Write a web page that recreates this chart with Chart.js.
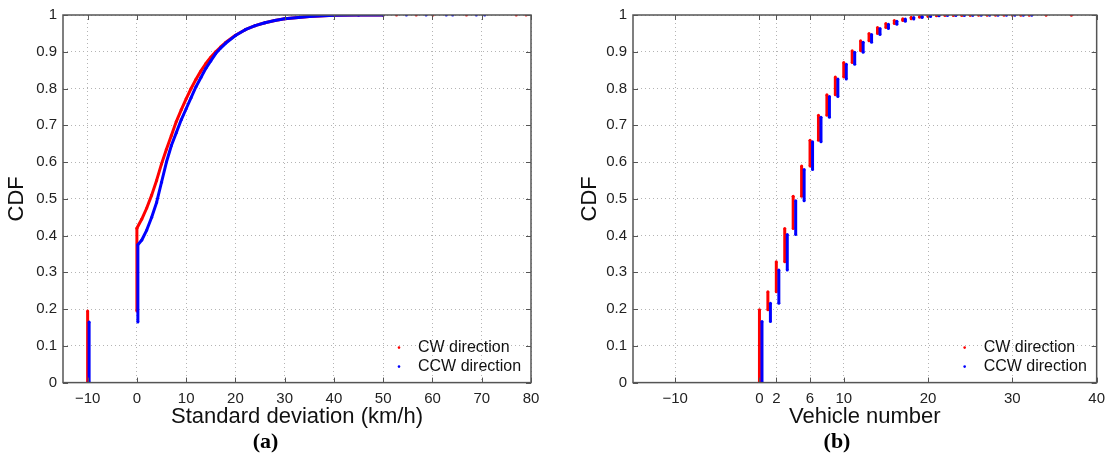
<!DOCTYPE html>
<html>
<head>
<meta charset="utf-8">
<title>CDF of speed deviation and vehicle number</title>
<script src="https://cdn.jsdelivr.net/npm/chart.js@4.4.1/dist/chart.umd.min.js"></script>
<style>
  html, body { margin: 0; padding: 0; background: #fff; }
  #wrap { position: relative; width: 1112px; height: 467px; }
  canvas { position: absolute; top: 0; }
  #chartA { left: 0; }
  #chartB { left: 556px; }
</style>
</head>
<body>
<div id="wrap">
  <canvas id="chartA" width="556" height="467"></canvas>
  <canvas id="chartB" width="556" height="467"></canvas>
</div>
<script>
// ---- data ----

// (a) standard deviation of speed
const sdTicks = [-10, 0, 10, 20, 30, 40, 50, 60, 70, 80];
const sdX = [0, 1, 2, 3, 4, 5, 6, 7, 8, 9, 10, 11, 12, 13, 14, 15, 16, 17, 18, 20, 22, 24, 26, 28, 30, 35, 40, 45, 50];
const cwSd = [0.42, 0.445, 0.475, 0.51, 0.55, 0.595, 0.635, 0.672, 0.71, 0.742, 0.772, 0.80, 0.825, 0.848, 0.868, 0.885, 0.90, 0.913, 0.925, 0.945, 0.96, 0.971, 0.979, 0.985, 0.99, 0.996, 0.999, 1, 1];
const ccwSd = [0.375, 0.388, 0.415, 0.45, 0.49, 0.545, 0.60, 0.645, 0.68, 0.715, 0.745, 0.775, 0.805, 0.83, 0.855, 0.875, 0.895, 0.91, 0.923, 0.944, 0.96, 0.971, 0.979, 0.985, 0.99, 0.996, 0.999, 1, 1];
// the -10 bar (invalid samples) and where the curve starts at 0
const cwNeg = { x: -10, top: 0.195, startX: 0 };
const ccwNeg = { x: -9.7, top: 0.165, startX: 0.2 };
// isolated points on the y = 1 line
const cwSdTail = [52.7, 56.7, 60.1, 66.9, 77, 79];
const ccwSdTail = [54.7, 58.7, 62.8, 64.1, 68.9, 70.6];

// (b) vehicle number, CDF value at n = 0, 1, 2, ... (null = no sample)
const vnTicks = [-10, 0, 2, 6, 10, 20, 30, 40];
const cwVn = [0.198, 0.247, 0.329, 0.419, 0.507, 0.589, 0.659, 0.727, 0.783, 0.831, 0.871, 0.903, 0.930, 0.950, 0.966, 0.977, 0.985, 0.990, 0.994, 0.996, 0.998, 0.999, 0.9993, 0.9995, 0.9996, 0.9997, 0.9998, 0.9998, 0.9999, 0.9999, 0.9999, 1, 1, null, 1, null, null, 1];
const ccwVn = [0.166, 0.216, 0.306, 0.403, 0.495, 0.580, 0.655, 0.722, 0.778, 0.826, 0.866, 0.899, 0.926, 0.947, 0.963, 0.975, 0.983, 0.989, 0.993, 0.996, 0.998, 0.999, 0.9993, 0.9995, 0.9996, 0.9997, 0.9998, 0.9998, 0.9999, 0.9999, 0.9999, 1, 1];
const ccwShift = 0.3;   // blue bars sit just right of the red ones

const yTicks = [0, 0.1, 0.2, 0.3, 0.4, 0.5, 0.6, 0.7, 0.8, 0.9, 1];
const seriesNames = ['CW direction', 'CCW direction'];
const RED = '#ff0000';
const BLUE = '#0000ff';
const FONT = '"Liberation Sans", Arial, Helvetica, sans-serif';

// build the continuous curve for (a): bar at -10, gap, curve from 0, gap, loose dots
function sdSeries(neg, xs, ys, tail) {
    const pts = [{ x: neg.x, y: 0 }, { x: neg.x, y: neg.top }, { x: neg.x, y: null }];
    pts.push({ x: neg.startX, y: neg.top });
    xs.forEach((x, i) => pts.push({ x: i === 0 ? neg.startX : x, y: ys[i] }));
    tail.forEach(x => {
        pts.push({ x: x, y: null });
        pts.push({ x: x, y: 1 });
    });
    return pts;
}

// build the vertical steps for (b)
function vnSeries(vals, shift) {
    const pts = [];
    let prev = 0;
    vals.forEach((v, n) => {
        if (v === null) return;
        pts.push({ x: n + shift, y: prev });
        pts.push({ x: n + shift, y: v });
        pts.push({ x: n + shift, y: null });
        prev = v;
    });
    return pts;
}

// box, inward tick marks and the legend in the lower right corner
const framePlugin = {
    id: 'frame',
    afterDraw(chart) {
        const { ctx, chartArea: a, scales } = chart;
        ctx.save();
        ctx.strokeStyle = '#555';
        ctx.lineWidth = 1;
        scales.x.ticks.forEach(t => {
            const px = Math.round(scales.x.getPixelForValue(t.value)) + 0.5;
            ctx.beginPath();
            ctx.moveTo(px, a.bottom); ctx.lineTo(px, a.bottom - 5);
            ctx.moveTo(px, a.top); ctx.lineTo(px, a.top + 5);
            ctx.stroke();
        });
        scales.y.ticks.forEach(t => {
            const py = Math.round(scales.y.getPixelForValue(t.value)) + 0.5;
            ctx.beginPath();
            ctx.moveTo(a.left, py); ctx.lineTo(a.left + 5, py);
            ctx.moveTo(a.right, py); ctx.lineTo(a.right - 5, py);
            ctx.stroke();
        });
        ctx.lineWidth = 1.5;
        ctx.strokeStyle = '#555';
        ctx.strokeRect(a.left, a.top, a.right - a.left, a.bottom - a.top);

        // legend
        ctx.font = '16px ' + FONT;
        ctx.textBaseline = 'middle';
        ctx.textAlign = 'left';
        chart.data.datasets.forEach((ds, i) => {
            const y = a.bottom - 35 + i * 19;
            ctx.fillStyle = ds.borderColor;
            ctx.beginPath();
            ctx.arc(a.right - 132, y, 1.3, 0, Math.PI * 2);
            ctx.fill();
            ctx.fillStyle = '#111';
            ctx.fillText(ds.label, a.right - 113, y);
        });
        ctx.restore();
    }
};

function makeOptions(cfg) {
    return {
        responsive: false,
        animation: false,
        events: [],
        layout: { padding: { left: cfg.padLeft, right: cfg.padRight, top: 14, bottom: 11 } },
        plugins: {
            legend: { display: false },
            tooltip: { enabled: false },
            title: {
                display: true,
                position: 'bottom',
                text: cfg.caption,
                color: '#000',
                font: { family: '"Liberation Serif", "Times New Roman", serif', size: 22, weight: 'bold' },
                padding: 0
            }
        },
        scales: {
            x: {
                type: 'linear',
                min: cfg.xMin,
                max: cfg.xMax,
                afterBuildTicks: scale => { scale.ticks = cfg.xTicks.map(v => ({ value: v })); },
                afterFit: scale => { scale.height = 47; },
                grid: { color: '#b4b4b4', drawTicks: false },
                border: { display: false, dash: [1, 3] },
                ticks: {
                    autoSkip: false,
                    maxRotation: 0,
                    padding: 7,
                    color: '#222',
                    font: { family: FONT, size: 15 },
                    callback: v => (v < 0 ? '\u2212' + Math.abs(v) : String(v))
                },
                title: {
                    display: true,
                    text: cfg.xTitle,
                    color: '#111',
                    font: { family: FONT, size: 22 },
                    padding: { top: 0, bottom: -1 }
                }
            },
            y: {
                min: 0,
                max: 1,
                afterBuildTicks: scale => { scale.ticks = yTicks.map(v => ({ value: v })); },
                afterFit: scale => { scale.width = cfg.yWidth; },
                grid: { color: '#b4b4b4', drawTicks: false },
                border: { display: false, dash: [1, 3] },
                ticks: {
                    padding: 6,
                    color: '#222',
                    font: { family: FONT, size: 15 },
                    callback: v => String(+v.toFixed(1))
                },
                title: {
                    display: true,
                    text: 'CDF',
                    color: '#111',
                    font: { family: FONT, size: 22 },
                    padding: { top: 4, bottom: 0 }
                }
            }
        }
    };
}

function lineSet(label, data, color, order, width) {
    return {
        label: label,
        data: data,
        borderColor: color,
        backgroundColor: color,
        borderWidth: width,
        pointRadius: 1.5,
        pointBorderWidth: 0,
        pointBackgroundColor: color,
        borderJoinStyle: 'round',
        tension: 0,
        spanGaps: false,
        order: order
    };
}

new Chart(document.getElementById('chartA'), {
    type: 'line',
    data: {
        datasets: [
            lineSet(seriesNames[0], sdSeries(cwNeg, sdX, cwSd, cwSdTail), RED, 1, 3),
            lineSet(seriesNames[1], sdSeries(ccwNeg, sdX, ccwSd, ccwSdTail), BLUE, 0, 3)
        ]
    },
    options: makeOptions({
        xMin: -15, xMax: 80, xTicks: sdTicks,
        xTitle: 'Standard deviation (km/h)', caption: '(a)',
        padLeft: 0, padRight: 25, yWidth: 63
    }),
    plugins: [framePlugin]
});

new Chart(document.getElementById('chartB'), {
    type: 'line',
    data: {
        datasets: [
            lineSet(seriesNames[0], vnSeries(cwVn, 0), RED, 1, 3),
            lineSet(seriesNames[1], vnSeries(ccwVn, ccwShift), BLUE, 0, 3)
        ]
    },
    options: makeOptions({
        xMin: -15, xMax: 40, xTicks: vnTicks,
        xTitle: 'Vehicle number', caption: '(b)',
        padLeft: 17, padRight: 11, yWidth: 60
    }),
    plugins: [framePlugin]
});
</script>
</body>
</html>
